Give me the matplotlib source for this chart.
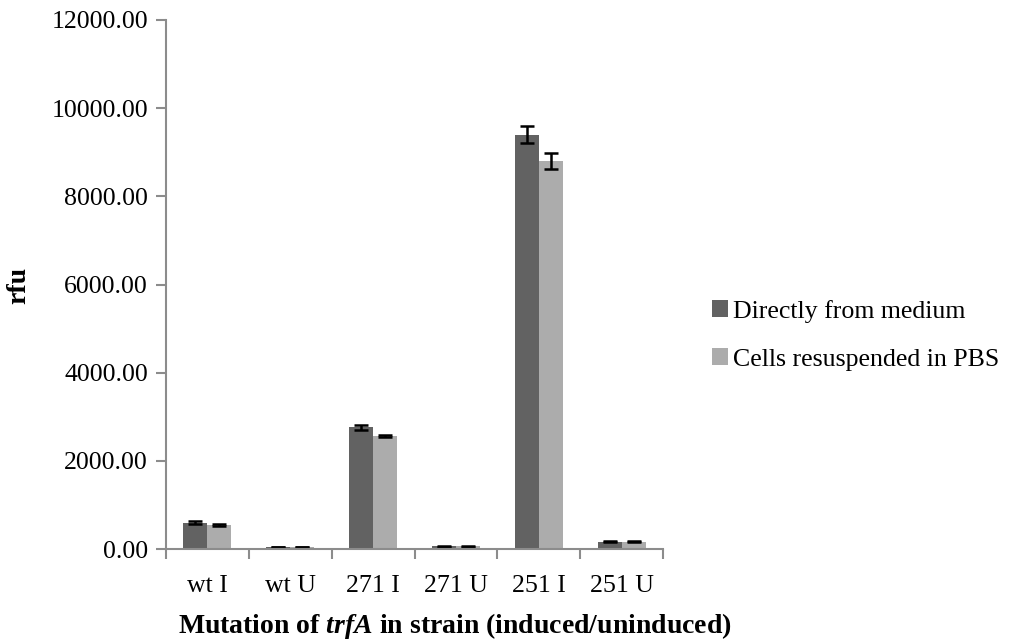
import matplotlib
matplotlib.use("Agg")
import matplotlib.pyplot as plt
import numpy as np

plt.rcParams['font.family'] = ['Liberation Serif', 'DejaVu Serif']
plt.rcParams['mathtext.fontset'] = 'custom'
plt.rcParams['mathtext.rm'] = 'Liberation Serif'
plt.rcParams['mathtext.bf'] = 'Liberation Serif:bold'
plt.rcParams['mathtext.it'] = 'Liberation Serif:italic'
plt.rcParams['mathtext.bfit'] = 'Liberation Serif:italic:bold'

categories = ["wt I", "wt U", "271 I", "271 U", "251 I", "251 U"]
series_names = ["Directly from medium", "Cells resuspended in PBS"]
medium_vals = [600, 50, 2760, 60, 9400, 170]
medium_err = [25, 5, 60, 10, 190, 15]
pbs_vals = [545, 45, 2560, 60, 8800, 170]
pbs_err = [15, 5, 30, 10, 180, 15]
y_ticks = [0, 2000, 4000, 6000, 8000, 10000, 12000]

dark = "#626262"
light = "#acacac"
axis_grey = "#8c8c8c"

fig = plt.figure(figsize=(10.10, 6.41), dpi=100)
ax = fig.add_axes([0.1644, 0.1435, 0.4920, 0.8253])

x = np.arange(len(categories))
w = 0.29
err_kw = dict(ecolor="black", elinewidth=1.8, capsize=5, capthick=1.8)
ax.bar(x - w / 2, medium_vals, width=w, color=dark, yerr=medium_err,
       error_kw=err_kw, label=series_names[0], zorder=2)
ax.bar(x + w / 2, pbs_vals, width=w, color=light, yerr=pbs_err,
       error_kw=err_kw, label=series_names[1], zorder=2)

ax.set_xlim(-0.5, len(categories) - 0.5)
ax.set_ylim(0, 12000)
ax.set_yticks(y_ticks)
ax.set_yticklabels([f"{v:.2f}" for v in y_ticks], fontsize=18.6)
ax.set_xticks(x)
ax.set_xticklabels(categories, fontsize=18.6)
ax.set_xticks(np.arange(len(categories) + 1) - 0.5, minor=True)
ax.tick_params(axis='x', which='major', length=0, pad=19)
ax.tick_params(axis='x', which='minor', length=7, width=1.5, color=axis_grey, direction='out')
ax.tick_params(axis='y', which='major', length=7, width=1.5, color=axis_grey, direction='out', pad=6)

for side in ("top", "right"):
    ax.spines[side].set_visible(False)
for side in ("left", "bottom"):
    ax.spines[side].set_color(axis_grey)
    ax.spines[side].set_linewidth(1.5)

fig.text(19 / 1010, 1 - 285 / 641, "rfu", rotation=90, ha="center", va="center",
         fontsize=20, fontweight="bold")
fig.text(455 / 1010, 1 - 633 / 641,
         r"Mutation of $\mathbfit{trfA}$ in strain (induced/uninduced)",
         ha="center", va="baseline", fontsize=20, fontweight="bold")

fig.legend(loc="center left", bbox_to_anchor=(0.695, 0.477), frameon=False,
           fontsize=18.6, handlelength=0.6, handleheight=0.6, handletextpad=0.2,
           labelspacing=1.0, borderaxespad=0)

fig.savefig("out.png", dpi=100, facecolor="white")
